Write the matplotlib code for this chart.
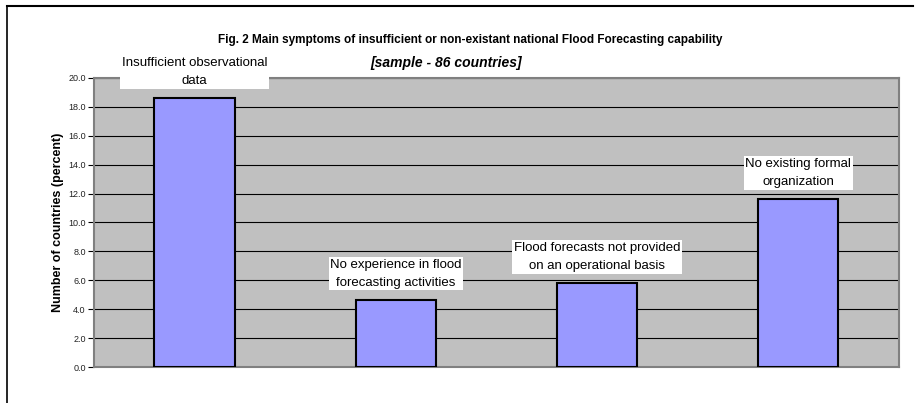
import numpy as np
import matplotlib
matplotlib.use('Agg')
import matplotlib.pyplot as plt
from matplotlib.lines import Line2D

plt.rcParams['font.family'] = ['Liberation Sans', 'DejaVu Sans']

##################################################################
# Data (percent of 86 countries)
##################################################################
categories = ['Insufficient observational\ndata',
              'No experience in flood\nforecasting activities',
              'Flood forecasts not provided\non an operational basis',
              'No existing formal\norganization']
values = [18.6, 4.65, 5.81, 11.63]
yticks = [0, 2, 4, 6, 8, 10, 12, 14, 16, 18, 20]

title = 'Fig. 2 Main symptoms of insufficient or non-existant national Flood Forecasting capability'
subtitle = '[sample - 86 countries]'

##################################################################
# Plot figure
##################################################################
fig = plt.figure(figsize=(9.18, 4.03), dpi=100)
ax = fig.add_axes([0.1024, 0.0893, 0.8766, 0.7172])

ax.set_facecolor('#C0C0C0')
ax.set_axisbelow(True)
ax.yaxis.grid(True, color='black', lw=0.8)

x = np.arange(len(values))
ax.bar(x, values, width=0.4, color='#9999FF', edgecolor='black', lw=1.5, zorder=3)

# category labels sit above each bar in white boxes
for xi, v, lab in zip(x, values, categories):
    ax.text(xi, v + 1.8, lab, ha='center', va='center', fontsize=9.5,
            linespacing=1.7, zorder=5, clip_on=False,
            bbox=dict(facecolor='white', edgecolor='none', pad=1.0))

ax.set_xlim(-0.5, 3.5)
ax.set_ylim(0, 20)
ax.set_xticks([])
ax.set_yticks(yticks)
ax.set_yticklabels(['%.1f' % t for t in yticks], fontsize=6.5, color='#222222')
ax.tick_params(axis='y', length=4, width=0.8, pad=2)

for s in ax.spines.values():
    s.set_color('#808080')
    s.set_linewidth(1.5)

ax.set_ylabel('Number of countries (percent)', fontsize=9, fontweight='bold', labelpad=3)

fig.text(0.512, 0.90, title, ha='center', va='center', fontsize=8.5, fontweight='bold')
fig.text(0.486, 0.844, subtitle, ha='center', va='center', fontsize=10,
         fontweight='bold', fontstyle='italic')

# outer chart frame (top and left edges visible)
fig.add_artist(Line2D([0.0076, 0.9946], [0.985, 0.985], color='black', lw=1.5,
                      transform=fig.transFigure))
fig.add_artist(Line2D([0.0076, 0.0076], [0.0, 0.985], color='black', lw=1.2,
                      transform=fig.transFigure))

plt.savefig('out.png', dpi=100)
